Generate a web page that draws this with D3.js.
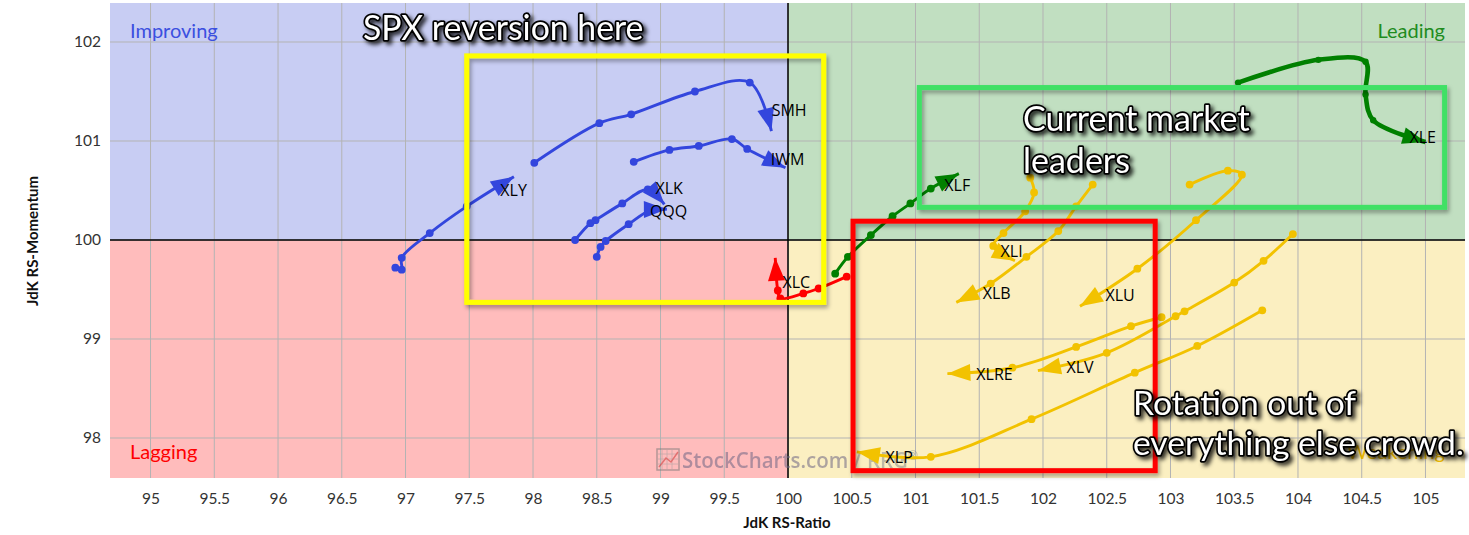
<!DOCTYPE html>
<html>
<head>
<meta charset="utf-8">
<script src="https://cdn.jsdelivr.net/npm/d3@7"></script>
<style>
  body { margin: 0; background: #fff; }
  svg { display: block; font-family: Lato, "Open Sans", sans-serif; }
</style>
</head>
<body>
<svg id="rrg" width="1469" height="535"></svg>
<script>
//=====================tails: [JdK RS-Ratio, JdK RS-Momentum], oldest -> latest=====================
var XLY = [[96.92, 99.72], [96.97, 99.70], [96.97, 99.82], [97.19, 100.07], [97.48, 100.34], [97.85, 100.64]];
var SMH = [[98.01, 100.78], [98.52, 101.18], [98.77, 101.27], [99.27, 101.50], [99.70, 101.59], [99.87, 101.10]];
var IWM = [[98.79, 100.79], [99.07, 100.91], [99.30, 100.95], [99.56, 101.02], [99.68, 100.92], [99.98, 100.73]];
var XLK = [[98.33, 100.00], [98.45, 100.17], [98.49, 100.20], [98.70, 100.37], [98.90, 100.51], [99.03, 100.36]];
var QQQ = [[98.50, 99.83], [98.53, 99.93], [98.57, 99.99], [98.75, 100.16], [98.92, 100.30], [99.05, 100.31]];
var XLC = [[100.46, 99.63], [100.24, 99.51], [100.12, 99.46], [99.94, 99.41], [99.92, 99.49], [99.90, 99.82]];
var XLF = [[100.37, 99.66], [100.47, 99.83], [100.65, 100.05], [100.82, 100.24], [100.96, 100.37], [101.12, 100.52], [101.34, 100.67]];
var XLE = [[103.53, 101.59], [104.16, 101.82], [104.53, 101.80], [104.53, 101.47], [104.59, 101.21], [105.00, 100.99]];
var XLI = [[101.90, 100.63], [101.93, 100.48], [101.86, 100.29], [101.69, 100.07], [101.61, 99.94], [101.78, 99.79]];
var XLB = [[102.39, 100.56], [102.26, 100.34], [102.12, 100.09], [101.87, 99.83], [101.59, 99.56], [101.32, 99.37]];
var XLU = [[103.15, 100.56], [103.45, 100.70], [103.56, 100.66], [103.20, 100.20], [102.74, 99.71], [102.29, 99.33]];
var XLRE = [[102.93, 99.22], [102.69, 99.13], [102.26, 98.92], [101.76, 98.71], [101.25, 98.65]];
var XLV = [[103.96, 100.06], [103.73, 99.79], [103.50, 99.57], [103.11, 99.28], [103.04, 99.23], [102.50, 98.86], [101.96, 98.68]];
var XLP = [[103.72, 99.29], [103.21, 98.93], [102.72, 98.66], [101.91, 98.19], [101.12, 97.81], [100.54, 97.86]];

var tickers = ["XLY", "SMH", "IWM", "XLK", "QQQ", "XLC", "XLF", "XLE", "XLI", "XLB", "XLU", "XLRE", "XLV", "XLP"];
var tails = [XLY, SMH, IWM, XLK, QQQ, XLC, XLF, XLE, XLI, XLB, XLU, XLRE, XLV, XLP];

var xTicks = [95, 95.5, 96, 96.5, 97, 97.5, 98, 98.5, 99, 99.5, 100, 100.5, 101, 101.5, 102, 102.5, 103, 103.5, 104, 104.5, 105];
var yTicks = [98, 99, 100, 101, 102];
var quadrants = ["Improving", "Leading", "Weakening", "Lagging"];

var notes = [["SPX reversion here"], ["Current market", "leaders"], ["Rotation out of", "everything else crowd."]];

//=====================layout=====================
var svg = d3.select("#rrg");
var plotL = 110, plotR = 1465, plotT = 3, plotB = 478;

var x = d3.scaleLinear().domain([94.682, 105.31]).range([plotL, plotR]);
var y = d3.scaleLinear().domain([97.596, 102.394]).range([plotB, plotT]);

var quadFill = { Improving: "#c8cdf3", Leading: "#c1dfc1", Weakening: "#fbefc1", Lagging: "#ffbcbc" };
var quadText = { Improving: "#3b4fe0", Leading: "#1e8c1e", Weakening: "#ecb800", Lagging: "#ff0000" };
var tailColor = { Improving: "#3346dd", Leading: "#008000", Weakening: "#f2c200", Lagging: "#ff0000" };

function quadOf(p) {
  if (p[0] >= 100) return p[1] >= 100 ? "Leading" : "Weakening";
  return p[1] >= 100 ? "Improving" : "Lagging";
}

var defs = svg.append("defs");
var f1 = defs.append("filter").attr("id", "txtShadow").attr("x", "-10%").attr("y", "-30%").attr("width", "130%").attr("height", "170%");
f1.append("feDropShadow").attr("dx", 3).attr("dy", 3).attr("stdDeviation", 2.2).attr("flood-color", "#000").attr("flood-opacity", 0.8);
var f2 = defs.append("filter").attr("id", "boxShadow").attr("x", "-5%").attr("y", "-5%").attr("width", "115%").attr("height", "115%");
f2.append("feDropShadow").attr("dx", 2).attr("dy", 3).attr("stdDeviation", 2).attr("flood-color", "#000").attr("flood-opacity", 0.35);

//=====================quadrant backgrounds=====================
var xd = x.domain(), yd = y.domain();
var qx = [[xd[0], 100], [100, xd[1]], [100, xd[1]], [xd[0], 100]];
var qy = [[100, yd[1]], [100, yd[1]], [yd[0], 100], [yd[0], 100]];
svg.append("g").selectAll("rect").data(quadrants).enter().append("rect")
  .attr("x", function(d, i) { return x(qx[i][0]); })
  .attr("y", function(d, i) { return y(qy[i][1]); })
  .attr("width", function(d, i) { return x(qx[i][1]) - x(qx[i][0]); })
  .attr("height", function(d, i) { return y(qy[i][0]) - y(qy[i][1]); })
  .attr("fill", function(d) { return quadFill[d]; });

//=====================grid + axes=====================
var grid = svg.append("g");
grid.selectAll(".gx").data(xTicks).enter().append("line")
  .attr("x1", function(d) { return x(d); }).attr("x2", function(d) { return x(d); })
  .attr("y1", plotT).attr("y2", plotB)
  .attr("stroke", "#b3b3b3").attr("stroke-width", 1);
grid.selectAll(".gy").data(yTicks).enter().append("line")
  .attr("x1", plotL).attr("x2", plotR)
  .attr("y1", function(d) { return y(d); }).attr("y2", function(d) { return y(d); })
  .attr("stroke", "#b3b3b3").attr("stroke-width", 1);
grid.append("line").attr("x1", x(100)).attr("x2", x(100)).attr("y1", plotT).attr("y2", plotB)
  .attr("stroke", "#000").attr("stroke-width", 1.5);
grid.append("line").attr("x1", plotL).attr("x2", plotR).attr("y1", y(100)).attr("y2", y(100))
  .attr("stroke", "#000").attr("stroke-width", 1.5);

var xAxis = svg.append("g").attr("transform", "translate(0," + plotB + ")")
  .call(d3.axisBottom(x).tickValues(xTicks).tickSize(0).tickPadding(15).tickFormat(d3.format("")));
var yAxis = svg.append("g").attr("transform", "translate(" + plotL + ",0)")
  .call(d3.axisLeft(y).tickValues(yTicks).tickSize(0).tickPadding(9).tickFormat(d3.format("")));
[xAxis, yAxis].forEach(function(a) {
  a.select(".domain").remove();
  a.selectAll("text").attr("font-family", "Lato, sans-serif").attr("font-size", 15.5).attr("fill", "#333");
});

svg.append("text").attr("x", 787).attr("y", 528).attr("text-anchor", "middle")
  .attr("font-size", 15).attr("font-weight", "bold").attr("fill", "#111").text("JdK RS-Ratio");
svg.append("text").attr("transform", "translate(38,241) rotate(-90)").attr("text-anchor", "middle")
  .attr("font-size", 15).attr("font-weight", "bold").attr("fill", "#111").text("JdK RS-Momentum");

//=====================quadrant names=====================
var qLabel = svg.append("g").attr("font-size", 20);
qLabel.selectAll("text").data(quadrants).enter().append("text")
  .attr("x", function(d, i) { return (i == 0 || i == 3) ? plotL + 20 : plotR - 20; })
  .attr("y", function(d, i) { return i < 2 ? 38 : 459; })
  .attr("text-anchor", function(d, i) { return (i == 0 || i == 3) ? "start" : "end"; })
  .attr("fill", function(d) { return quadText[d]; })
  .text(function(d) { return d; });

//=====================watermark=====================
var wm = svg.append("g").attr("opacity", 0.55);
wm.append("rect").attr("x", 657).attr("y", 449).attr("width", 22).attr("height", 21)
  .attr("fill", "none").attr("stroke", "#777").attr("stroke-width", 1.5);
[662, 667, 672].forEach(function(v) {
  wm.append("line").attr("x1", v).attr("x2", v).attr("y1", 450).attr("y2", 469).attr("stroke", "#999").attr("stroke-width", 0.8);
  wm.append("line").attr("x1", 658).attr("x2", 678).attr("y1", v - 208).attr("y2", v - 208).attr("stroke", "#999").attr("stroke-width", 0.8);
});
wm.append("path").attr("d", "M659,467 L666,458 L671,462 L678,452").attr("fill", "none").attr("stroke", "#c33").attr("stroke-width", 1.5);
wm.append("text").attr("x", 682).attr("y", 468).attr("font-family", "'Open Sans', sans-serif").attr("font-weight", 600)
  .attr("font-size", 22).attr("textLength", 236).attr("lengthAdjust", "spacingAndGlyphs")
  .call(function(t) {
    t.append("tspan").attr("fill", "#6e6684").text("StockCharts.com");
    t.append("tspan").attr("fill", "#8d8d8d").text(" / RRG");
    t.append("tspan").attr("fill", "#8d8d8d").attr("font-size", 13).attr("dy", -8).text("®");
  });

//=====================tails=====================
var line = d3.line()
  .x(function(d) { return x(d[0]); })
  .y(function(d) { return y(d[1]); })
  .curve(d3.curveCatmullRom.alpha(0.5));

var gTails = svg.append("g");
for (var i = 0; i < tails.length; i++) {
  drawTail(tickers[i], tails[i]);
}

function drawTail(name, pts) {
  var col = tailColor[quadOf(pts[pts.length - 1])];
  var thick = name == "XLE" ? 4.6 : 2.9;
  var g = gTails.append("g");
  var path = g.append("path").attr("d", line(pts))
    .attr("fill", "none").attr("stroke", col).attr("stroke-width", thick);

  g.selectAll("circle").data(pts.slice(0, pts.length - 1)).enter().append("circle")
    .attr("cx", function(d) { return x(d[0]); })
    .attr("cy", function(d) { return y(d[1]); })
    .attr("r", name == "XLE" ? 3.2 : 3.9)
    .attr("fill", col);

  // arrow head along the end of the curve
  var node = path.node(), L = node.getTotalLength();
  var tip = node.getPointAtLength(L), back = node.getPointAtLength(Math.max(0, L - 12));
  var a = Math.atan2(tip.y - back.y, tip.x - back.x);
  var len = 23, hw = 8.5;
  var bx = tip.x - len * Math.cos(a), by = tip.y - len * Math.sin(a);
  g.append("polygon")
    .attr("points", [[tip.x, tip.y],
      [bx + hw * Math.sin(a), by - hw * Math.cos(a)],
      [bx - hw * Math.sin(a), by + hw * Math.cos(a)]].join(" "))
    .attr("fill", col);

  g.append("text").attr("x", bx + 6).attr("y", by + 1)
    .attr("dominant-baseline", "central")
    .attr("font-family", "'Open Sans', sans-serif").attr("font-size", 16).attr("fill", "#000")
    .text(name);
}

//=====================annotation boxes=====================
var boxes = [
  { x0: 97.48, x1: 100.28, y0: 99.37, y1: 101.86, col: "#ffff00" },
  { x0: 101.03, x1: 105.15, y0: 100.33, y1: 101.54, col: "#3fe065" },
  { x0: 100.51, x1: 102.88, y0: 97.67, y1: 100.19, col: "#ff0000" }
];
svg.append("g").selectAll("rect").data(boxes).enter().append("rect")
  .attr("x", function(d) { return x(d.x0); })
  .attr("y", function(d) { return y(d.y1); })
  .attr("width", function(d) { return x(d.x1) - x(d.x0); })
  .attr("height", function(d) { return y(d.y0) - y(d.y1); })
  .attr("fill", "none").attr("stroke", function(d) { return d.col; }).attr("stroke-width", 5)
  .attr("filter", "url(#boxShadow)");

//=====================annotation text=====================
var noteAt = [[363, 40, 33.8, 0], [1023, 131, 34, 42], [1133, 415, 33.6, 40]];
notes.forEach(function(lines, k) {
  var t = svg.append("text")
    .attr("x", noteAt[k][0]).attr("y", noteAt[k][1])
    .attr("font-family", "Lato, sans-serif").attr("font-size", noteAt[k][2])
    .attr("fill", "#fff").attr("stroke", "#000").attr("stroke-width", 3.4)
    .attr("stroke-linejoin", "round").attr("paint-order", "stroke")
    .attr("filter", "url(#txtShadow)");
  lines.forEach(function(s, j) {
    t.append("tspan").attr("x", noteAt[k][0]).attr("dy", j == 0 ? 0 : noteAt[k][3]).text(s);
  });
});
</script>
</body>
</html>
